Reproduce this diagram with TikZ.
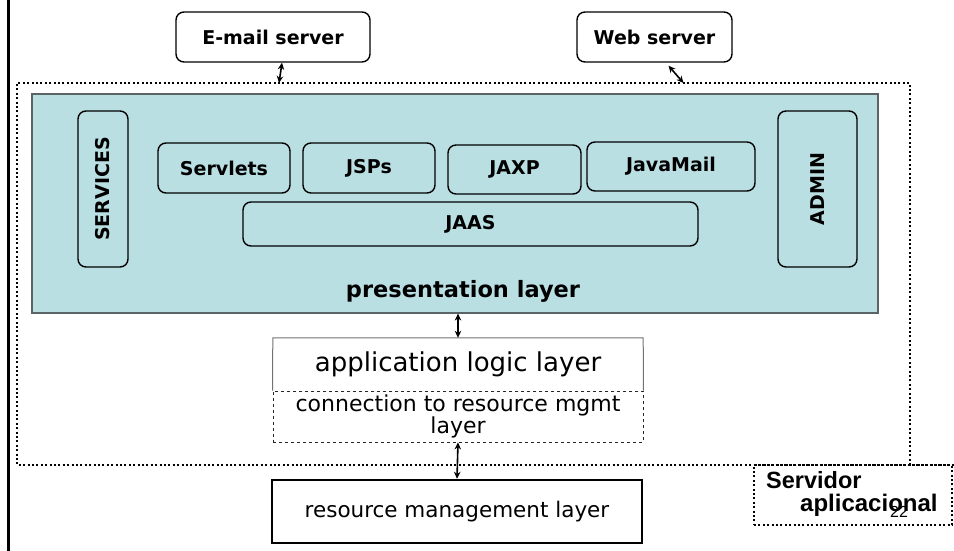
\documentclass[tikz,border=0pt]{standalone}
\usepackage{fontspec}
\setmainfont{DejaVu Sans}
\newfontfamily\arialfont{Liberation Sans}
\usetikzlibrary{arrows.meta}
\definecolor{layerfill}{HTML}{BADFE3}
\definecolor{layeredge}{HTML}{5A6466}
\tikzset{
  rbox/.style={draw=black, line width=1.4pt, rounded corners=8pt, align=center,
    inner sep=0pt, font=\fontsize{19}{22}\selectfont\bfseries},
  vbox/.style={rbox, rotate=90},
  dotline/.style={line width=2pt, dash pattern=on 2pt off 2.4pt, line cap=butt},
  dbl/.style={line width=1.6pt, {Stealth[length=7pt,width=6.5pt]}-{Stealth[length=7pt,width=6.5pt]}},
  plain/.style={inner sep=0pt, align=center}
}
\begin{document}
\begin{tikzpicture}[x=1pt, y=-1pt]
\useasboundingbox (0,0) rectangle (954,551);
\fill[white] (0,0) rectangle (954,551);

% left margin rule
\draw[line width=3pt] (8,0) -- (8,551);

% external servers
\node[rbox, minimum width=194pt, minimum height=50pt] (email) at (273,37) {E-mail server};
\node[rbox, minimum width=155pt, minimum height=50pt] (web) at (654.5,37) {Web server};

% application server boundary (dotted)
\coordinate (bnw) at (17,83);
\coordinate (bse) at (910,465);
\draw[dotline] (bse) -- (bse |- bnw) -- (bnw) -- (bnw |- bse) -- (954,465);

% presentation layer
\node[draw=layeredge, fill=layerfill, line width=1.2pt, minimum width=846pt, minimum height=219pt, inner sep=0pt] (pres) at (455,203.5) {};
\node[plain, font=\fontsize{22.5}{24}\selectfont\bfseries] (preslbl) at (463,291) {presentation layer};

\node[vbox, minimum width=156pt, minimum height=50pt] (services) at (103,189) {SERVICES};
\node[vbox, minimum width=156pt, minimum height=79pt] (admin) at (817.5,189) {ADMIN};
\node[rbox, minimum width=132pt, minimum height=50pt] (servlets) at (224,168) {Servlets};
\node[rbox, minimum width=132pt, minimum height=50pt] (jsps) at (369,168) {JSPs};
\node[rbox, minimum width=133pt, minimum height=49pt] (jaxp) at (514.5,169.5) {JAXP};
\node[rbox, minimum width=168pt, minimum height=49pt] (javamail) at (671,166.5) {JavaMail};
\node[rbox, minimum width=455pt, minimum height=44pt] (jaas) at (470.5,224) {JAAS};

% application logic layer
\node[plain, minimum width=370pt, minimum height=52pt, font=\fontsize{26}{28}\selectfont] (applogic) at (458,364) {application logic layer};
\node[plain, draw=black!85, line width=0.9pt, dashed, minimum width=370pt, minimum height=51pt,
      font=\fontsize{22}{22}\selectfont] (conn) at (458,416.5) {connection to resource mgmt\\layer};
\draw[draw=black!55, line width=1pt] (conn.north west) -- (applogic.north west) -- (applogic.north east) -- (conn.north east);

% resource management layer
\node[draw=black, line width=2.5pt, minimum width=370pt, minimum height=63pt, inner sep=0pt,
      font=\fontsize{21.5}{24}\selectfont] (resource) at (457,511.5) {resource management layer};

% caption box
\node[draw=black, dotline, minimum width=198pt, minimum height=60pt, inner sep=0pt] (caption) at (853,495) {};
\node[anchor=base west, inner sep=0pt, font=\arialfont\fontsize{23.5}{24}\selectfont\bfseries] (capa) at (766,488) {Servidor};
\node[anchor=base west, inner sep=0pt, font=\arialfont\fontsize{24}{24}\selectfont\bfseries] (capb) at (800,511) {aplicacional};
\node[anchor=base, inner sep=0pt, font=\arialfont\fontsize{16}{18}\selectfont] (pagenum) at (899,517) {22};

% connectors
\draw[dbl] ([xshift=9pt]email.south) -- ([xshift=6pt]email.south |- bnw);
\draw[dbl] ([xshift=14pt,yshift=-3pt]web.south) -- ([xshift=29pt]web.south |- bnw);
\draw[dbl] (pres.south -| applogic.north) -- (applogic.north);
\draw[dbl] (conn.south) -- (resource.north);
\end{tikzpicture}
\end{document}
